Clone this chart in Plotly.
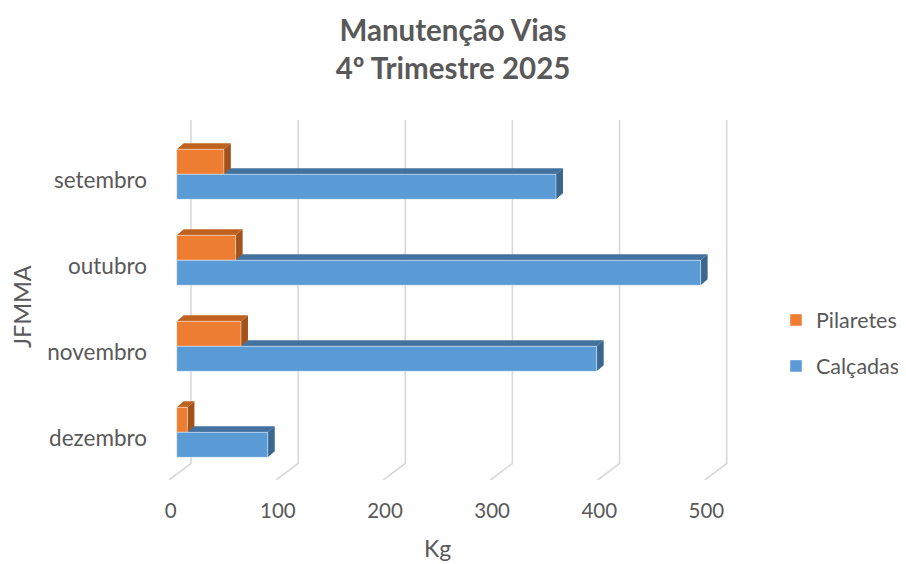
import plotly.graph_objects as go

# ---------------- data ----------------
months = ["setembro", "outubro", "novembro", "dezembro"]
calcadas = [354, 489, 392, 85]
pilaretes = [44, 55, 60, 10]
x_ticks = [0, 100, 200, 300, 400, 500]

# ---------------- geometry / style constants (page pixels) ----------------
PAGE_W, PAGE_H = 906, 564
OFF = 8                      # default body margin of the html page
W, H = PAGE_W - OFF, PAGE_H - OFF

PX_PER_UNIT = 1.0714
PX_PER_CAT = 86.0
X0_PX = 176.7      # value 0 on the bar front plane
Y0_PX = 174.3      # centre of first category
L_PX, R_PX = 150, 756
T_PX, B_PX = 110, 480

xr = [(L_PX - X0_PX) / PX_PER_UNIT, (R_PX - X0_PX) / PX_PER_UNIT]
yr = [(B_PX - Y0_PX) / PX_PER_CAT, (T_PX - Y0_PX) / PX_PER_CAT]

BW = 25.0 / PX_PER_CAT          # bar thickness
DX = 7.0 / PX_PER_UNIT           # bar depth (x)
DY = -6.0 / PX_PER_CAT           # bar depth (y)
WX = 14.3 / PX_PER_UNIT          # back wall offset
WALL_TOP = (120 - Y0_PX) / PX_PER_CAT
WALL_BOT = (463.5 - Y0_PX) / PX_PER_CAT
FX = (169 - X0_PX) / PX_PER_UNIT
FLOOR = yr[0]

TXT = "#595959"
FONT = "Lato"
BLUE, BLUE_TOP, BLUE_SIDE = "#5B9BD5", "#44729F", "#3A6690"
ORANGE, ORANGE_TOP, ORANGE_SIDE = "#ED7D31", "#C0621F", "#A4521B"
EDGE = "rgba(255,255,255,0.45)"
GRID = "#D9D9D9"

ypos = list(range(len(months)))

fig = go.Figure()
fig.add_trace(go.Bar(
    name="Pilaretes", orientation="h", x=pilaretes, y=ypos,
    width=BW, offset=-BW, legendgroup="p",
    marker=dict(color=ORANGE, line=dict(width=1, color=EDGE)),
    hoverinfo="x+name"))
fig.add_trace(go.Bar(
    name="Calçadas", orientation="h", x=calcadas, y=ypos,
    width=BW, offset=0, legendgroup="c",
    marker=dict(color=BLUE, line=dict(width=1, color=EDGE)),
    hoverinfo="x+name"))

shapes = []
# back wall gridlines + floor diagonals
for v in x_ticks:
    shapes.append(dict(
        type="path", xref="x", yref="y", layer="below",
        path=f"M {v+WX},{WALL_TOP} L {v+WX},{WALL_BOT} L {v+FX},{FLOOR}",
        line=dict(color=GRID, width=1.6)))


def faces(v, y_top, top_col, side_col):
    y_bot = y_top + BW
    top = (f"M 0,{y_top} L {v},{y_top} L {v+DX},{y_top+DY} "
           f"L {DX},{y_top+DY} Z")
    side = (f"M {v},{y_top} L {v+DX},{y_top+DY} L {v+DX},{y_bot+DY} "
            f"L {v},{y_bot} Z")
    return [dict(type="path", xref="x", yref="y", layer="below", path=top,
                 fillcolor=top_col, line=dict(width=0)),
            dict(type="path", xref="x", yref="y", layer="below", path=side,
                 fillcolor=side_col, line=dict(width=0))]


for i, v in enumerate(calcadas):
    shapes += faces(v, i, BLUE_TOP, BLUE_SIDE)
for i, v in enumerate(pilaretes):
    shapes += faces(v, i - BW, ORANGE_TOP, ORANGE_SIDE)

pw, ph = R_PX - L_PX, B_PX - T_PX


def px(x):
    return (x - L_PX) / pw


def py(y):
    return (B_PX - y) / ph


fig.update_layout(
    width=W, height=H,
    margin=dict(l=L_PX - OFF, r=PAGE_W - R_PX, t=T_PX - OFF, b=PAGE_H - B_PX,
                pad=0, autoexpand=False),
    paper_bgcolor="white", plot_bgcolor="white",
    barmode="overlay",
    font=dict(family=FONT, color=TXT),
    title=dict(text="<b>Manutenção Vias<br>4º Trimestre 2025</b>",
               x=(453 - OFF) / W, xref="container", xanchor="center",
               y=1 - (40.5 - OFF) / H, yref="container", yanchor="middle",
               font=dict(family=FONT, size=29.5, color=TXT)),
    xaxis=dict(range=xr, tickvals=x_ticks, ticktext=[str(t) for t in x_ticks],
               showgrid=False, zeroline=False, showline=False, ticks="",
               automargin=False,
               ticklabelstandoff=16, ticklabelshift=-6,
               tickfont=dict(family=FONT, size=20.5, color=TXT)),
    yaxis=dict(range=yr, tickvals=ypos, ticktext=months,
               showgrid=False, zeroline=False, showline=False, ticks="",
               automargin=False,
               ticklabelstandoff=2, ticklabelshift=-6,
               tickfont=dict(family=FONT, size=22.5, color=TXT)),
    shapes=shapes,
    legend=dict(xref="container", yref="container",
                x=(776 - OFF) / W, y=1 - (299.5 - OFF) / H,
                xanchor="left", yanchor="top",
                traceorder="grouped", tracegroupgap=15,
                font=dict(family=FONT, size=21.5, color=TXT),
                bgcolor="rgba(0,0,0,0)"),
    annotations=[
        dict(text="Kg", x=px(437), y=py(548), xref="paper", yref="paper",
             showarrow=False, xanchor="center", yanchor="middle",
             font=dict(family=FONT, size=23, color=TXT)),
        dict(text="JFMMA", x=px(22), y=py(307), xref="paper", yref="paper",
             showarrow=False, xanchor="center", yanchor="middle",
             textangle=-90, font=dict(family=FONT, size=23.5, color=TXT)),
    ],
)

fig.write_html("out.html")
